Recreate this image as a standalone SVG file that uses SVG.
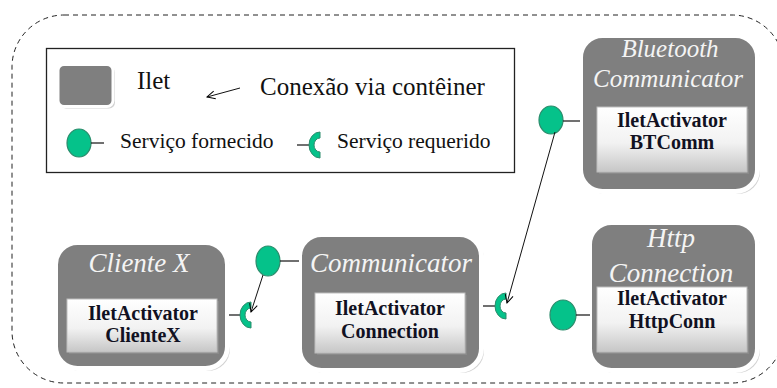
<svg xmlns="http://www.w3.org/2000/svg" width="777" height="388" viewBox="0 0 777 388">
  <style>
    .txt { font-family: "Liberation Serif", serif; }
    .ilet { fill: #7f7f7f; stroke: #ffffff; stroke-width: 5; }
    .shade { fill: #9a9a9a; opacity: 0.45; }
    .inner { fill: url(#innerGrad); stroke: #bdbdbd; stroke-width: 1; }
    .title { font-family: "Liberation Serif", serif; font-style: italic; fill: #f4f4f4; text-anchor: middle; }
    .act { font-family: "Liberation Serif", serif; font-weight: bold; font-size: 20px; fill: #111122; text-anchor: middle; }
    .legend { font-family: "Liberation Serif", serif; fill: #111; }
    .provided { fill: #05c28a; stroke: #2c8c6c; stroke-width: 1.2; }
    .required { fill: #05c28a; stroke: #2c8c6c; stroke-width: 1; }
    .stub { stroke: #111; stroke-width: 1.2; }
    .conn { stroke: #111; stroke-width: 1; fill: none; marker-end: url(#arrow); }
  </style>
  <defs>
    <linearGradient id="innerGrad" x1="0" y1="0" x2="0" y2="1">
      <stop offset="0" stop-color="#ffffff"/>
      <stop offset="0.55" stop-color="#f2f2f2"/>
      <stop offset="1" stop-color="#c6c6c6"/>
    </linearGradient>
    <marker id="arrow" markerWidth="10" markerHeight="10" refX="9" refY="5" orient="auto" markerUnits="userSpaceOnUse">
      <path d="M1,1 L9,5 L1,9" fill="none" stroke="#000" stroke-width="1"/>
    </marker>
  </defs>

  <!-- container boundary -->
  <rect x="12" y="15" width="772" height="368" rx="52" ry="52" fill="none" stroke="#222" stroke-width="1" stroke-dasharray="5,4"/>

  <!-- legend -->
  <g id="legend">
    <rect x="46.5" y="48.5" width="468" height="124" fill="#fff" stroke="#222" stroke-width="1.3"/>
    <rect x="60" y="66.5" width="55" height="42" rx="6" class="shade"/>
    <rect x="58" y="64.5" width="55" height="42" rx="6" class="ilet" style="stroke-width:3"/>
    <text x="137" y="89" class="legend" font-family="Liberation Serif" font-size="25">Ilet</text>
    <line x1="240" y1="88" x2="207" y2="97" class="conn"/>
    <text x="260" y="95" class="legend" font-family="Liberation Serif" font-size="25">Conexão via contêiner</text>
    <ellipse cx="79" cy="143" rx="12" ry="14" class="provided"/>
    <line x1="91" y1="143" x2="104" y2="143" class="stub"/>
    <text x="120" y="148" class="legend" font-family="Liberation Serif" font-size="21.5">Serviço fornecido</text>
    <line x1="297" y1="145" x2="309" y2="145" class="stub"/>
    <path d="M320,132 A11 13 0 0 0 320 158 L320 152 A6 7 0 0 1 320 138 Z" class="required"/>
    <text x="337" y="148" class="legend" font-family="Liberation Serif" font-size="21.5">Serviço requerido</text>
  </g>

  <!-- Bluetooth Communicator -->
  <g id="bluetooth-communicator">
    <rect x="583" y="38" width="177" height="156" rx="22" class="shade"/>
    <rect x="580.5" y="35.5" width="177" height="156" rx="22" class="ilet"/>
    <text x="670" y="57" class="title" font-family="Liberation Serif" font-size="25">Bluetooth</text>
    <text x="668" y="87" class="title" font-family="Liberation Serif" font-size="25">Communicator</text>
    <rect x="599" y="109" width="150" height="65" class="shade"/>
    <rect x="597" y="107" width="150" height="65" class="inner"/>
    <text x="672" y="127" class="act" font-family="Liberation Serif">IletActivator</text>
    <text x="672" y="149" class="act" font-family="Liberation Serif">BTComm</text>
    <ellipse cx="551" cy="120" rx="12" ry="14" class="provided"/>
    <line x1="563" y1="121" x2="580" y2="121" class="stub"/>
  </g>

  <!-- Cliente X -->
  <g id="cliente-x">
    <rect x="58" y="245" width="172" height="126" rx="22" class="shade"/>
    <rect x="55.5" y="242.5" width="172" height="126" rx="22" class="ilet"/>
    <text x="139" y="272" class="title" font-family="Liberation Serif" font-size="27">Cliente X</text>
    <rect x="69" y="301" width="150" height="53" class="shade"/>
    <rect x="67" y="299" width="150" height="53" class="inner"/>
    <text x="143" y="320" class="act" font-family="Liberation Serif">IletActivator</text>
    <text x="143" y="342" class="act" font-family="Liberation Serif">ClienteX</text>
    <line x1="229" y1="315" x2="240" y2="315" class="stub"/>
    <path d="M251,302 A11 13 0 0 0 251 328 L251 322 A6 7 0 0 1 251 308 Z" class="required"/>
  </g>

  <!-- Communicator -->
  <g id="communicator">
    <rect x="302" y="237" width="182" height="136" rx="22" class="shade"/>
    <rect x="299.5" y="234.5" width="182" height="136" rx="22" class="ilet"/>
    <text x="391" y="272" class="title" font-family="Liberation Serif" font-size="27">Communicator</text>
    <rect x="317" y="295" width="150" height="60" class="shade"/>
    <rect x="315" y="293" width="150" height="60" class="inner"/>
    <text x="390" y="315" class="act" font-family="Liberation Serif">IletActivator</text>
    <text x="390" y="338" class="act" font-family="Liberation Serif">Connection</text>
    <ellipse cx="268" cy="261" rx="12" ry="15" class="provided"/>
    <line x1="280" y1="261" x2="299" y2="261" class="stub"/>
    <line x1="483" y1="306" x2="495" y2="306" class="stub"/>
    <path d="M506,293 A11 13 0 0 0 506 319 L506 313 A6 7 0 0 1 506 299 Z" class="required"/>
  </g>

  <!-- Http Connection -->
  <g id="http-connection">
    <rect x="592" y="225" width="168" height="148" rx="22" class="shade"/>
    <rect x="589.5" y="222.5" width="168" height="148" rx="22" class="ilet"/>
    <text x="671" y="247" class="title" font-family="Liberation Serif" font-size="27">Http</text>
    <text x="671" y="282" class="title" font-family="Liberation Serif" font-size="27">Connection</text>
    <rect x="599" y="289" width="150" height="65" class="shade"/>
    <rect x="597" y="287" width="150" height="65" class="inner"/>
    <text x="672" y="305" class="act" font-family="Liberation Serif">IletActivator</text>
    <text x="672" y="328" class="act" font-family="Liberation Serif">HttpConn</text>
    <ellipse cx="563" cy="315" rx="13" ry="15" class="provided"/>
    <line x1="576" y1="315" x2="590" y2="315" class="stub"/>
  </g>

  <!-- container connections -->
  <g id="connectors">
    <line x1="555" y1="132" x2="507" y2="303" class="conn"/>
    <line x1="263" y1="275" x2="251" y2="312" class="conn"/>
  </g>
</svg>
